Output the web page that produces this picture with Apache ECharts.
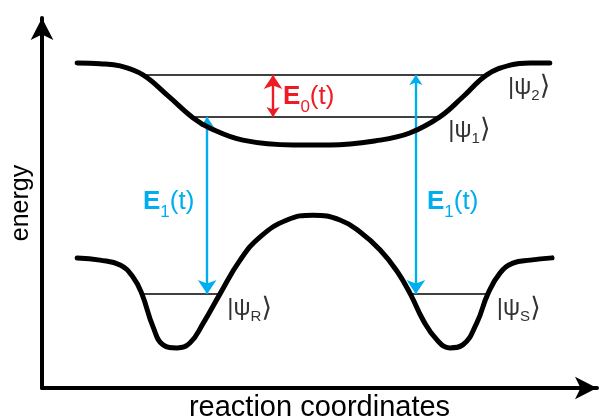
<!DOCTYPE html>
<html><head><meta charset="utf-8">
<script src="https://cdn.jsdelivr.net/npm/echarts@6/dist/echarts.min.js"></script>
<style>html,body{margin:0;padding:0;background:#fff}#c{width:603px;height:419px}</style>
</head><body><div id="c"></div>
<script>
// Upper potential curve (excited state): reaction coordinate vs energy
const upperX = [6.3, 10.4, 14.0, 18.1, 22.6, 27.1, 30.1, 36.0, 45.0, 51.6, 60.6, 65.9, 71.3, 75.4, 79.7, 83.9, 87.5, 91.0];
const upperE = [86.7, 86.5, 85.9, 83.5, 77.9, 72.0, 69.3, 66.1, 64.8, 64.8, 66.1, 68.0, 72.3, 77.6, 83.5, 86.1, 86.7, 86.7];
// Lower potential curve (ground state double well)
const lowerX = [6.3, 10.4, 14.0, 16.3, 17.9, 19.9, 21.7, 24.2, 26.5, 28.9, 31.9, 35.5, 39.1, 43.9, 48.6, 53.4, 57.0, 60.6, 63.6, 66.0, 68.3, 70.8, 73.1, 75.4, 77.9, 79.9, 82.1, 84.4, 87.5, 91.4];
const lowerE = [34.7, 34.1, 32.8, 29.6, 25.1, 16.3, 11.5, 10.7, 12.0, 17.3, 25.1, 34.1, 40.3, 44.8, 46.1, 44.8, 41.6, 36.8, 31.2, 25.1, 18.1, 12.8, 10.7, 11.5, 17.3, 25.1, 30.7, 33.3, 34.1, 34.7];
// Energy levels
const levelNames = ['ψ2', 'ψ1', 'ψR', 'ψS'];
const levelE = [83.5, 72.3, 25.1, 25.1];
const levelStart = [18.1, 26.9, 17.9, 65.6];
const levelEnd = [79.7, 71.3, 31.9, 79.9];
// Transitions (arrows)
const arrowNames = ['E0(t)', 'E1(t) left', 'E1(t) right'];
const arrowX = [41.4, 29.6, 67.0];
const arrowFrom = [72.3, 72.3, 83.5];
const arrowTo = [83.5, 25.1, 25.1];
// Text labels
const labelText = ['{eb|E}{es|0}{en|(t)}', '{eb|E}{es|1}{en|(t)}', '{eb|E}{es|1}{en|(t)}', '{p||ψ}{ps|2}{k|⟩}', '{p||ψ}{ps|1}{k|⟩}', '{p||ψ}{ps|R}{k|⟩}', '{p||ψ}{ps|S}{k|⟩}'];
const labelX = [43.2, 18.1, 69.0, 83.5, 72.8, 33.2, 81.5];
const labelE = [77.6, 49.6, 49.6, 80.3, 68.8, 21.3, 21.3];

const RED = '#ed1c24', BLUE = '#00aeef', GRAY = '#333333';
const arrowColors = [RED, BLUE, BLUE];
const labelColors = [RED, BLUE, BLUE, GRAY, GRAY, GRAY, GRAY];
const FONT = '"Liberation Sans", Arial, "DejaVu Sans", sans-serif';

const chart = echarts.init(document.getElementById('c'), null, {renderer: 'canvas'});
const pairs = (xs, ys) => xs.map((x, i) => [x, ys[i]]);

chart.setOption({
  animation: false,
  backgroundColor: '#fff',
  grid: {left: 42, right: 6, top: 18, bottom: 31, containLabel: false, outerBoundsMode: 'none'},
  xAxis: {
    type: 'value', min: 0, max: 99.46,
    name: 'reaction coordinates', nameLocation: 'middle', nameGap: 5,
    nameTextStyle: {fontSize: 29, color: '#000', fontFamily: FONT},
    axisLine: {show: true, symbol: ['none', 'arrow'], symbolSize: [17, 22], lineStyle: {color: '#000', width: 4}},
    axisTick: {show: false}, axisLabel: {show: false}, splitLine: {show: false}
  },
  yAxis: {
    type: 'value', min: 0, max: 98.67,
    name: 'energy', nameLocation: 'middle', nameGap: 8, nameRotate: 90,
    nameTextStyle: {fontSize: 25, color: '#000', fontFamily: FONT},
    axisLine: {show: true, symbol: ['none', 'arrow'], symbolSize: [17, 22], lineStyle: {color: '#000', width: 4}},
    axisTick: {show: false}, axisLabel: {show: false}, splitLine: {show: false}
  },
  series: [
    {type: 'line', name: 'upper', data: pairs(upperX, upperE), smooth: 0.4, showSymbol: false,
     lineStyle: {color: '#000', width: 5, cap: 'round', join: 'round'}},
    {type: 'line', name: 'lower', data: pairs(lowerX, lowerE), smooth: 0.45, showSymbol: false,
     lineStyle: {color: '#000', width: 5, cap: 'round', join: 'round'}},
    {type: 'lines', name: 'levels', coordinateSystem: 'cartesian2d', symbol: 'none',
     lineStyle: {color: '#000', width: 1.5, opacity: 1},
     data: levelNames.map((n, i) => ({name: n, coords: [[levelStart[i], levelE[i]], [levelEnd[i], levelE[i]]]}))},
    {type: 'lines', name: 'arrows', coordinateSystem: 'cartesian2d', symbol: ['arrow', 'arrow'], symbolSize: [10, 14],
     symbolOffset: [0, 7],
     data: arrowNames.map((n, i) => ({name: n, coords: [[arrowX[i], arrowFrom[i]], [arrowX[i], arrowTo[i]]],
       lineStyle: {color: arrowColors[i], width: 2.4, opacity: 1}}))},
    {type: 'scatter', name: 'labels', symbolSize: 0, silent: true,
     itemStyle: {opacity: 1},
     data: labelText.map((t, i) => ({value: [labelX[i], labelE[i]],
       label: {show: true, position: 'right', distance: 0, formatter: t, color: labelColors[i]}})),
     label: {
       fontFamily: FONT,
       rich: {
         eb: {fontSize: 26, fontWeight: 'bold', lineHeight: 38, fontFamily: FONT},
         es: {fontSize: 17, lineHeight: 17, verticalAlign: 'bottom', fontFamily: FONT},
         en: {fontSize: 26, lineHeight: 38, fontFamily: FONT},
         p: {fontSize: 24, lineHeight: 32, fontFamily: FONT},
         k: {fontSize: 27, lineHeight: 32, fontFamily: FONT},
         ps: {fontSize: 15, lineHeight: 15, verticalAlign: 'bottom', fontFamily: FONT}
       }
     }}
  ]
});
</script></body></html>
